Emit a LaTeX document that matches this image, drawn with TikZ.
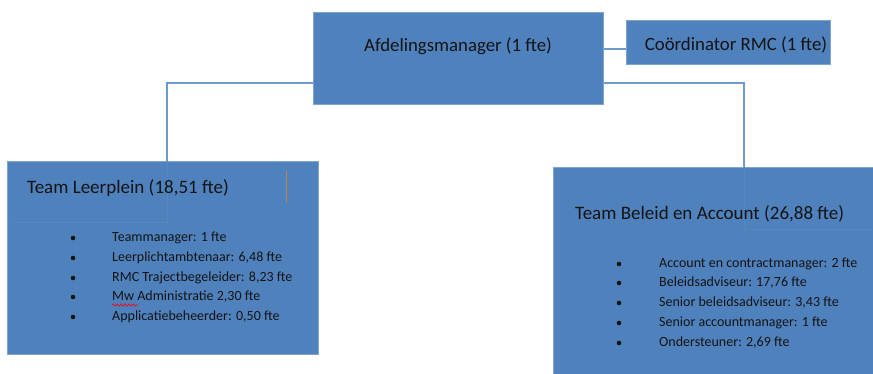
\documentclass[tikz,border=0pt]{standalone}
\usepackage{fontspec}
\setmainfont{Carlito}
\usetikzlibrary{decorations.pathmorphing}
\definecolor{boxblue}{HTML}{4F81BD}
\definecolor{edgeblue}{HTML}{7FA3D2}
\definecolor{linkblue}{HTML}{6F9AD0}
\definecolor{faintblue}{HTML}{5886C0}
\definecolor{txt}{HTML}{141414}
\definecolor{orangeline}{HTML}{C0834A}
\tikzset{
  orgbox/.style={draw=edgeblue, line width=0.6pt, fill=boxblue, inner sep=0pt, anchor=north west},
  link/.style={draw=linkblue, line width=1.4pt},
  title/.style={text=txt, font=\fontsize{18.8}{21}\selectfont, inner sep=0pt},
  teamtitle/.style={text=txt, font=\fontsize{19}{22}\selectfont, inner sep=0pt, anchor=west},
  item/.style={text=txt, font=\fontsize{14}{16}\selectfont, inner sep=0pt, anchor=west},
  bul/.style={circle, fill=txt, inner sep=0pt, minimum size=4.6pt},
  faint/.style={draw=faintblue, line width=0.5pt}
}
\begin{document}
\begin{tikzpicture}[x=1pt,y=-1pt]
\useasboundingbox (0,0) rectangle (873,374);
% boxes
\node[orgbox, minimum width=290pt, minimum height=92pt] (mgr) at (313,12) {};
\node[orgbox, minimum width=204pt, minimum height=44pt] (coord) at (626,20) {};
\node[orgbox, minimum width=311pt, minimum height=193pt] (leer) at (7,161) {};
\node[orgbox, minimum width=322pt, minimum height=210pt] (bel) at (553,167) {};
% connectors
\coordinate (cj) at (626,49);
\coordinate (lj) at (167,83);
\coordinate (rj) at (744,83);
\draw[link] (mgr.east |- cj) -- (coord.west |- cj);
\draw[link] (mgr.west |- lj) -- (lj) -- (lj |- leer.north);
\draw[link] (mgr.east |- rj) -- (rj) -- (rj |- bel.north);
% faint text-box outlines
\coordinate (lf1) at (12,222);
\coordinate (lf2) at (167,222);
\draw[faint] (lj |- leer.north) -- (lf2) -- (lf1);
\coordinate (rf1) at (744,229);
\coordinate (rf2) at (872,229);
\draw[faint] (rj |- bel.north) -- (rf1) -- (rf2);
% titles
\node[title] (mgrt) at (458,46) {Afdelingsmanager (1 fte)};
\node[title] (coordt) at (736,45) {Coördinator RMC (1 fte)};
\node[teamtitle] (leert) at (27,188) {Team Leerplein (18,51 fte)};
\node[teamtitle] (belt) at (575,214) {Team Beleid en Account (26,88 fte)};
% orange cursor line
\coordinate (o1) at (286,171);
\coordinate (o2) at (286,203);
\draw[orangeline, line width=0.8pt] (o1) -- (o2);
% left list
\foreach \y/\t [count=\i] in {238/{Teammanager: 1 fte},258/{Leerplichtambtenaar: 6,48 fte},278/{RMC Trajectbegeleider: 8,23 fte},297/{Mw Administratie 2,30 fte},317/{Applicatiebeheerder: 0,50 fte}}{
  \node[bul] (lb\i) at (73,\y) {};
  \node[item] (li\i) at (112,\y) {\t};
}
% spelling underline under "Mw"
\coordinate (w1) at (112,305);
\coordinate (w2) at (138,305);
\draw[red, line width=0.6pt, decorate, decoration={snake, amplitude=1.2pt, segment length=4pt}] (w1) -- (w2);
% right list
\foreach \y/\t [count=\i] in {264/{Account en contractmanager: 2 fte},283/{Beleidsadviseur: 17,76 fte},303/{Senior beleidsadviseur: 3,43 fte},323/{Senior accountmanager: 1 fte},343/{Ondersteuner: 2,69 fte}}{
  \node[bul] (rb\i) at (619,\y) {};
  \node[item] (ri\i) at (659,\y) {\t};
}
\end{tikzpicture}
\end{document}
